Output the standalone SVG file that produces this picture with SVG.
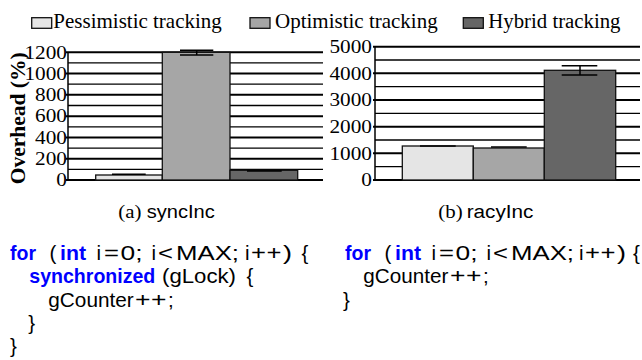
<svg xmlns="http://www.w3.org/2000/svg" width="642" height="360" viewBox="0 0 642 360">
<style>
.bg{fill:#ffffff}
.maj{stroke:#000;stroke-width:2;fill:none}
.min{stroke:#000;stroke-width:1.3;fill:none}
.ax{stroke:#000;stroke-width:1.5;fill:none}
.bar{stroke:#111;stroke-width:1.3}
.p{fill:#e5e5e5}
.o{fill:#a6a6a6}
.h{fill:#666666}
.err{stroke:#000;stroke-width:1.5;fill:none}
.tick{font-family:"Liberation Serif","Times New Roman",serif;font-size:18.5px;fill:#000;text-anchor:end}
.leg{font-family:"Liberation Serif","Times New Roman",serif;font-size:20px;fill:#000}
.ylab{font-family:"Liberation Serif","Times New Roman",serif;font-size:21.5px;font-weight:bold;fill:#000;text-anchor:middle}
.cap{font-family:"Liberation Serif","Times New Roman",serif;font-size:19px;fill:#000}
.capS{font-family:"Liberation Sans",Arial,sans-serif;font-size:18px;fill:#000}
.code{font-family:"Liberation Sans",Arial,sans-serif;font-size:20.5px;fill:#000}
.kw{font-family:"Liberation Sans",Arial,sans-serif;font-size:20.5px;font-weight:bold;fill:#0000ff}
</style>
<rect class="bg" x="0" y="0" width="642" height="360"/>

<g id="legend">
  <rect class="bar p" x="31.7" y="17.7" width="20" height="10.6"/>
  <text class="leg" transform="translate(53.3,28.3) scale(1.05,1)">Pessimistic tracking</text>
  <rect class="bar o" x="250" y="17.7" width="20" height="10.6"/>
  <text class="leg" transform="translate(275,28.3) scale(1.05,1)">Optimistic tracking</text>
  <rect class="bar h" x="463.3" y="17.7" width="20" height="10.6"/>
  <text class="leg" transform="translate(488.3,28.3) scale(1.04,1)">Hybrid tracking</text>
</g>

<g id="chart-a">
  <g id="grid-a">
    <line class="min" x1="68" y1="169.36" x2="323" y2="169.36"/>
    <line class="maj" x1="66" y1="158.72" x2="323" y2="158.72"/>
    <line class="min" x1="68" y1="148.07" x2="323" y2="148.07"/>
    <line class="maj" x1="66" y1="137.43" x2="323" y2="137.43"/>
    <line class="min" x1="68" y1="126.79" x2="323" y2="126.79"/>
    <line class="maj" x1="66" y1="116.15" x2="323" y2="116.15"/>
    <line class="min" x1="68" y1="105.51" x2="323" y2="105.51"/>
    <line class="maj" x1="66" y1="94.87" x2="323" y2="94.87"/>
    <line class="min" x1="68" y1="84.22" x2="323" y2="84.22"/>
    <line class="maj" x1="66" y1="73.58" x2="323" y2="73.58"/>
    <line class="min" x1="68" y1="62.94" x2="323" y2="62.94"/>
    <line class="maj" x1="66" y1="52.3" x2="323" y2="52.3"/>
    <line class="maj" x1="66" y1="180" x2="323" y2="180"/>
    <line class="ax" x1="68" y1="52.3" x2="68" y2="180"/>
  </g>
  <g id="ticks-a">
    <text class="tick" transform="translate(67,186.2) scale(1.15,1)">0</text>
    <text class="tick" transform="translate(67,164.9) scale(1.15,1)">200</text>
    <text class="tick" transform="translate(67,143.6) scale(1.15,1)">400</text>
    <text class="tick" transform="translate(67,122.4) scale(1.15,1)">600</text>
    <text class="tick" transform="translate(67,101.1) scale(1.15,1)">800</text>
    <text class="tick" transform="translate(67,79.8) scale(1.15,1)">1000</text>
    <text class="tick" transform="translate(67,58.5) scale(1.15,1)">1200</text>
  </g>
  <text class="ylab" transform="translate(24.5,118.3) rotate(-90)">Overhead (%)</text>
  <g id="bars-a">
    <rect class="bar p" x="95.7" y="175" width="66.6" height="5"/>
    <rect class="bar o" x="162.3" y="52.3" width="67.7" height="127.7"/>
    <rect class="bar h" x="230" y="170.3" width="67.7" height="9.7"/>
    <line class="err" x1="112" y1="174.3" x2="145.7" y2="174.3"/>
    <path class="err" d="M180,50.3H213.3M180,55H213.3M196.7,50.3V55"/>
    <line class="err" x1="247" y1="171" x2="281.7" y2="171"/>
  </g>
</g>

<g id="chart-b">
  <g id="grid-b">
    <line class="min" x1="375" y1="166.67" x2="640" y2="166.67"/>
    <line class="maj" x1="373" y1="153.33" x2="640" y2="153.33"/>
    <line class="min" x1="375" y1="140" x2="640" y2="140"/>
    <line class="maj" x1="373" y1="126.67" x2="640" y2="126.67"/>
    <line class="min" x1="375" y1="113.33" x2="640" y2="113.33"/>
    <line class="maj" x1="373" y1="100" x2="640" y2="100"/>
    <line class="min" x1="375" y1="86.67" x2="640" y2="86.67"/>
    <line class="maj" x1="373" y1="73.33" x2="640" y2="73.33"/>
    <line class="min" x1="375" y1="60" x2="640" y2="60"/>
    <line class="maj" x1="373" y1="46.67" x2="640" y2="46.67"/>
    <line class="maj" x1="373" y1="180" x2="640" y2="180"/>
    <line class="ax" x1="375" y1="46.67" x2="375" y2="180"/>
  </g>
  <g id="ticks-b">
    <text class="tick" transform="translate(372,186.4) scale(1.15,1)">0</text>
    <text class="tick" transform="translate(372,159.8) scale(1.15,1)">1000</text>
    <text class="tick" transform="translate(372,133.1) scale(1.15,1)">2000</text>
    <text class="tick" transform="translate(372,106.4) scale(1.15,1)">3000</text>
    <text class="tick" transform="translate(372,79.8) scale(1.15,1)">4000</text>
    <text class="tick" transform="translate(372,53.1) scale(1.15,1)">5000</text>
  </g>
  <g id="bars-b">
    <rect class="bar p" x="402.3" y="146" width="71" height="34"/>
    <rect class="bar o" x="473.3" y="148" width="71" height="32"/>
    <rect class="bar h" x="544.3" y="70.3" width="71.4" height="109.7"/>
    <line class="err" x1="420" y1="146" x2="455.7" y2="146"/>
    <line class="err" x1="491" y1="147" x2="526.7" y2="147"/>
    <path class="err" d="M561.7,65.7H597.3M561.7,75H597.3M580,65.7V75"/>
  </g>
</g>

<g id="caption-a">
  <text class="cap" transform="translate(118.3,218.3) scale(1.1,1)">(a)</text>
  <text class="capS" x="146.7" y="218.3" textLength="68" lengthAdjust="spacingAndGlyphs">syncInc</text>
</g>
<g id="caption-b">
  <text class="cap" transform="translate(438.3,218.3) scale(1.1,1)">(b)</text>
  <text class="capS" x="466.7" y="218.3" textLength="66.7" lengthAdjust="spacingAndGlyphs">racyInc</text>
</g>

<g id="code-a">
  <text class="kw" x="10" y="260" textLength="26" lengthAdjust="spacingAndGlyphs">for</text>
  <text class="code" x="49.5" y="260">(</text>
  <text class="kw" x="60" y="260" textLength="26" lengthAdjust="spacingAndGlyphs">int</text>
  <text class="code" x="96.5" y="260">i</text>
  <text class="code" x="104" y="260" textLength="15" lengthAdjust="spacingAndGlyphs">=</text>
  <text class="code" x="120.5" y="260" textLength="22" lengthAdjust="spacingAndGlyphs">0;</text>
  <text class="code" x="151.5" y="260">i</text>
  <text class="code" x="158" y="260" textLength="15" lengthAdjust="spacingAndGlyphs">&lt;</text>
  <text class="code" x="176" y="260" textLength="63" lengthAdjust="spacingAndGlyphs">MAX;</text>
  <text class="code" x="245" y="260">i</text>
  <text class="code" x="251" y="260" textLength="15" lengthAdjust="spacingAndGlyphs">+</text>
  <text class="code" x="266.5" y="260" textLength="15" lengthAdjust="spacingAndGlyphs">+</text>
  <text class="code" x="283" y="260" textLength="9" lengthAdjust="spacingAndGlyphs">)</text>
  <text class="code" x="301.5" y="260">{</text>
  <text class="kw" x="29.3" y="283.3" textLength="126" lengthAdjust="spacingAndGlyphs">synchronized</text>
  <text class="code" x="162" y="283.3" textLength="74" lengthAdjust="spacingAndGlyphs">(gLock)</text>
  <text class="code" x="246.5" y="283.3">{</text>
  <text class="code" x="48.3" y="306.7" textLength="85.5" lengthAdjust="spacingAndGlyphs">gCounter</text>
  <text class="code" x="135" y="306.7" textLength="15.5" lengthAdjust="spacingAndGlyphs">+</text>
  <text class="code" x="151" y="306.7" textLength="15.5" lengthAdjust="spacingAndGlyphs">+</text>
  <text class="code" x="168" y="306.7">;</text>
  <text class="code" x="28.3" y="330">}</text>
  <text class="code" x="10" y="353.3">}</text>
</g>

<g id="code-b">
  <text class="kw" x="345" y="260" textLength="26" lengthAdjust="spacingAndGlyphs">for</text>
  <text class="code" x="384.5" y="260">(</text>
  <text class="kw" x="395" y="260" textLength="26" lengthAdjust="spacingAndGlyphs">int</text>
  <text class="code" x="431.5" y="260">i</text>
  <text class="code" x="439" y="260" textLength="15" lengthAdjust="spacingAndGlyphs">=</text>
  <text class="code" x="455.5" y="260" textLength="22" lengthAdjust="spacingAndGlyphs">0;</text>
  <text class="code" x="486.5" y="260">i</text>
  <text class="code" x="493" y="260" textLength="15" lengthAdjust="spacingAndGlyphs">&lt;</text>
  <text class="code" x="511" y="260" textLength="63" lengthAdjust="spacingAndGlyphs">MAX;</text>
  <text class="code" x="579" y="260">i</text>
  <text class="code" x="585" y="260" textLength="15" lengthAdjust="spacingAndGlyphs">+</text>
  <text class="code" x="600.5" y="260" textLength="15" lengthAdjust="spacingAndGlyphs">+</text>
  <text class="code" x="617" y="260" textLength="9" lengthAdjust="spacingAndGlyphs">)</text>
  <text class="code" x="633" y="260">{</text>
  <text class="code" x="363.3" y="283.3" textLength="85" lengthAdjust="spacingAndGlyphs">gCounter</text>
  <text class="code" x="450" y="283.3" textLength="15.5" lengthAdjust="spacingAndGlyphs">+</text>
  <text class="code" x="466" y="283.3" textLength="15.5" lengthAdjust="spacingAndGlyphs">+</text>
  <text class="code" x="483" y="283.3">;</text>
  <text class="code" x="343" y="306.7">}</text>
</g>
</svg>
